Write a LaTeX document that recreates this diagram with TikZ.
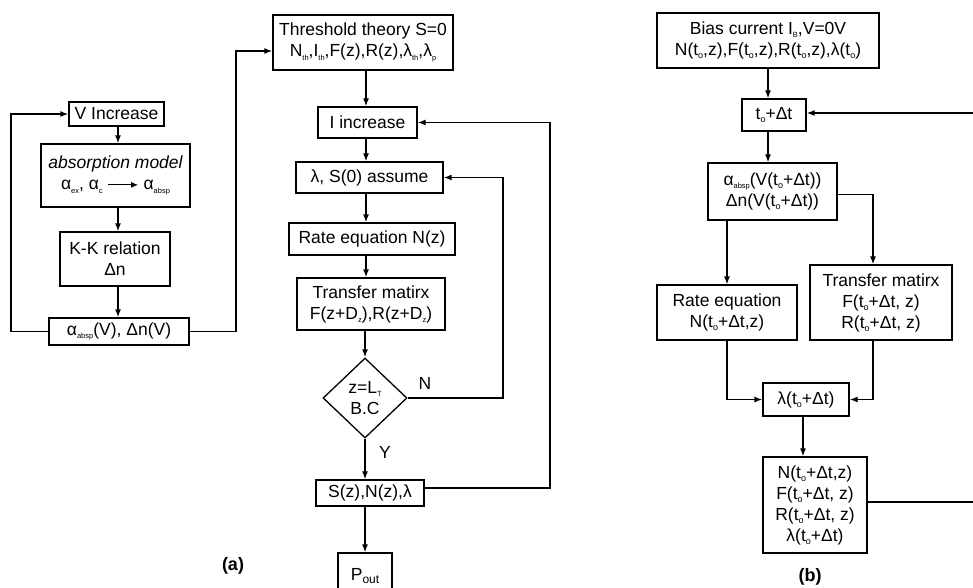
\documentclass[tikz,border=0pt]{standalone}
\usepackage{fontspec}
\setmainfont{Liberation Sans}
\usetikzlibrary{arrows.meta,shapes.geometric}
\newcommand\sbx[1]{\raisebox{-0.35ex}{\fontsize{7.5}{7.5}\selectfont #1}}
\newcommand\sbo{\raisebox{-0.35ex}{\fontsize{9}{9}\selectfont o}}
\newcommand\inarrow{\tikz[baseline=-0.55ex]\draw[line width=1.2pt,-{Latex[length=7pt,width=6pt]}] (0pt,0pt)--(30pt,0pt);}
\tikzset{
  box/.style={draw, line width=1.3pt, align=center, inner sep=0pt, font=\fontsize{17.5}{21}\selectfont},
  arr/.style={line width=1.3pt, -{Latex[length=8pt,width=6pt]}},
  lbl/.style={inner sep=0pt, font=\fontsize{17.5}{21}\selectfont},
  captxt/.style={inner sep=0pt, font=\fontsize{18}{21}\selectfont\bfseries}
}
\begin{document}
\begin{tikzpicture}[x=1pt,y=-1pt]
\useasboundingbox (0,0) rectangle (973,588);
% ---- left column (a)
\node[box, minimum width=95, minimum height=24] (vinc) at (116.5,114) {V Increase};
\node[box, minimum width=149, minimum height=63] (absm) at (115.5,175.5) {{\itshape absorption model}\\ α\sbx{ex}, α\sbx{c} \inarrow{} α\sbx{absp}};
\node[box, minimum width=110, minimum height=54] (kk) at (115,259) {K-K relation\\ Δn};
\node[box, minimum width=140, minimum height=27] (aout) at (119,331.5) {α\sbx{absp}(V), Δn(V)};
\coordinate (lx) at (118,0);
\draw[arr] (vinc.south -| lx) -- (absm.north -| lx);
\draw[arr] (absm.south -| lx) -- (kk.north -| lx);
\draw[arr] (kk.south -| lx) -- (aout.north -| lx);
\coordinate (llx) at (11,0);
\draw[arr] (aout.west) -- (aout.west -| llx) |- (vinc.west);
% ---- middle column (a)
\node[box, minimum width=180, minimum height=55] (thr) at (363,42.5) {Threshold theory S=0\\ N\sbx{th},I\sbx{th},F(z),R(z),λ\sbx{th},λ\sbx{p}};
\node[box, minimum width=99, minimum height=31] (iinc) at (367.5,122.5) {I increase};
\node[box, minimum width=147, minimum height=31] (lam) at (369.5,177.5) {λ, S(0) assume};
\node[box, minimum width=166, minimum height=32] (rate) at (372,239) {Rate equation N(z)};
\node[box, minimum width=148, minimum height=52] (tm) at (371,304) {Transfer matirx\\ F(z+D\sbx{z}),R(z+D\sbx{z})};
\node[box, diamond, minimum width=84, minimum height=80] (dia) at (365,398) {z=L\sbx{T}\\ B.C};
\node[box, minimum width=108, minimum height=26] (sbox) at (370,493) {S(z),N(z),λ};
\node[box, minimum width=54, minimum height=46] (pout) at (365,576) {P\raisebox{-0.4ex}{\fontsize{12}{12}\selectfont out}};
\coordinate (rax) at (236,0);
\draw[arr] (aout.east) -- (aout.east -| rax) |- ([yshift=-8.5]thr.west);
\coordinate (mx) at (366,0);
\draw[arr] (thr.south -| mx) -- (iinc.north -| mx);
\draw[arr] (iinc.south -| mx) -- (lam.north -| mx);
\draw[arr] (lam.south -| mx) -- (rate.north -| mx);
\draw[arr] (rate.south -| mx) -- (tm.north -| mx);
\draw[arr] (tm.south -| dia.north) -- (dia.north);
\draw[arr] (dia.south) -- (dia.south |- sbox.north);
\draw[arr] (sbox.south -| pout.north) -- (pout.north);
\coordinate (nx) at (503,0);
\draw[arr] (dia.east) -- (dia.east -| nx) |- (lam.east);
\coordinate (rx) at (550,0);
\draw[arr] ([yshift=5]sbox.east) -- ([yshift=5]sbox.east -| rx) |- (iinc.east);
\node[lbl] (nlab) at (425,383) {N};
\node[lbl] (ylab) at (385,452) {Y};
\node[captxt] (capa) at (233,566) {(a)};
% ---- right (b)
\node[box, minimum width=222, minimum height=55] (bias) at (768,40.5) {Bias current I\sbx{B},V=0V\\ N(t\sbo,z),F(t\sbo,z),R(t\sbo,z),λ(t\sbo)};
\node[box, minimum width=64, minimum height=32] (tb) at (774,115) {t\sbo+Δt};
\node[box, minimum width=129, minimum height=57] (ab) at (772.5,191.5) {α\sbx{absp}(V(t\sbo+Δt))\\ Δn(V(t\sbo+Δt))};
\node[box, minimum width=140, minimum height=55] (rb) at (727,312.5) {Rate equation\\ N(t\sbo+Δt,z)};
\node[box, minimum width=142, minimum height=75] (tmb) at (881,302.5) {Transfer matirx\\ F(t\sbo+Δt, z)\\ R(t\sbo+Δt, z)};
\node[box, minimum width=86, minimum height=33] (lb) at (806,399.5) {λ(t\sbo+Δt)};
\node[box, minimum width=104, minimum height=96] (fb) at (815,505) {N(t\sbo+Δt,z)\\ F(t\sbo+Δt, z)\\ R(t\sbo+Δt, z)\\ λ(t\sbo+Δt)};
\coordinate (bx) at (768,0);
\draw[arr] (bias.south -| bx) -- (tb.north -| bx);
\draw[arr] (tb.south -| bx) -- (ab.north -| bx);
\draw[arr] (ab.south -| rb.north) -- (rb.north);
\coordinate (tx) at (873,0);
\draw[arr] ([yshift=-3]ab.east) -- ([yshift=-3]ab.east -| tx) -- (tmb.north -| tx);
\draw[arr] (rb.south) |- (lb.west);
\draw[arr] (tmb.south -| tx) |- (lb.east);
\coordinate (fx) at (803,0);
\draw[arr] (lb.south -| fx) -- (fb.north -| fx);
\coordinate (ex) at (975,0);
\draw[arr] ([yshift=3]fb.east) -- ([yshift=3]fb.east -| ex) |- ([yshift=2]tb.east);
\node[captxt] (capb) at (810,577) {(b)};
\end{tikzpicture}
\end{document}
